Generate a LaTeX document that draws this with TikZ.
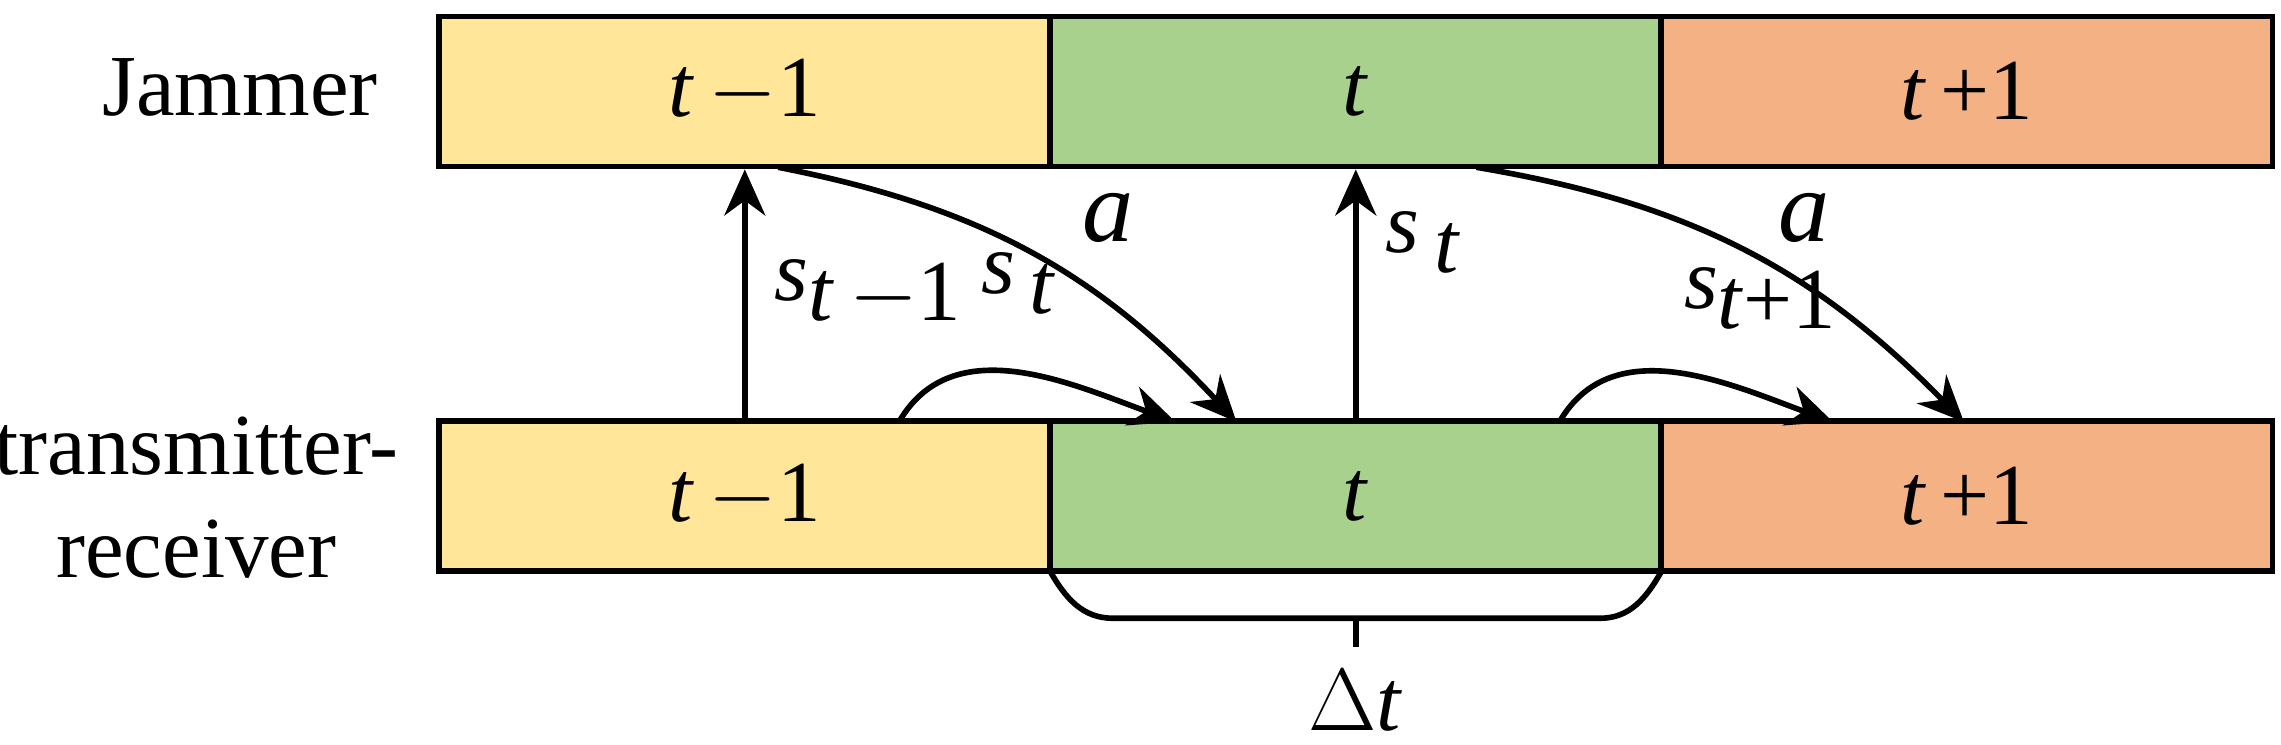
\documentclass[tikz,border=0pt]{standalone}
\usepackage{fontspec}
\setmainfont{Liberation Serif}
\usetikzlibrary{arrows.meta}
\definecolor{cy}{HTML}{FFE699}
\definecolor{cg}{HTML}{A9D18E}
\definecolor{co}{HTML}{F4B183}
\newcommand{\ti}[1]{\textit{#1}}
\begin{document}
\begin{tikzpicture}[x=0.01cm,y=-0.01cm,
  box/.style={draw,line width=1.1pt,minimum height=1.03cm,inner sep=0,font=\fontsize{17}{20}\selectfont},
  lab/.style={font=\fontsize{17}{20}\selectfont},
  arr/.style={line width=1.1pt,-{Stealth[length=9pt,width=8pt]}},
  txt/.style={font=\fontsize{17}{20}\selectfont,align=center}]
\useasboundingbox (0,0) rectangle (1568,512);
\node[box,fill=cy,minimum width=4.2cm] (j1) at (512,63) {\ti{t}\,$-$1};
\node[box,fill=cg,minimum width=4.2cm] (j2) at (932,63) {\ti{t}};
\node[box,fill=co,minimum width=4.2cm] (j3) at (1352,63) {\ti{t}\,+1};
\node[box,fill=cy,minimum width=4.2cm] (r1) at (512,341) {\ti{t}\,$-$1};
\node[box,fill=cg,minimum width=4.2cm] (r2) at (932,341) {\ti{t}};
\node[box,fill=co,minimum width=4.2cm] (r3) at (1352,341) {\ti{t}\,+1};
\node[txt] (jl) at (165,60) {Jammer};
\node[txt] (rl) at (135,342) {transmitter-\\receiver};
\draw[arr] (r1.north) -- (j1.south) node[lab,midway,right=2pt] (s1) {\ti{s}\raisebox{-0.5ex}{\ti{t}\,$-$1}};
\draw[arr] (r2.north) -- (j2.south) node[lab,midway,right=2pt,yshift=10pt] (s2) {\ti{s}\raisebox{-0.5ex}{\,\ti{t}}};
\coordinate (a1) at (535,115); \coordinate (b1) at (850,290);
\coordinate (a2) at (1015,115); \coordinate (b2) at (1350,290);
\draw[arr] (a1) to[bend left=18] (b1);
\draw[arr] (a2) to[bend left=18] (b2);
\node[lab,font=\fontsize{20}{24}\selectfont] (la1) at (762,150) {\ti{a}};
\node[lab,font=\fontsize{20}{24}\selectfont] (la2) at (1240,150) {\ti{a}};
\coordinate (c1) at (618,290); \coordinate (d1) at (808,290);
\coordinate (c2) at (1072,290); \coordinate (d2) at (1260,290);
\draw[arr] (c1) to[out=60,in=160] (d1);
\draw[arr] (c2) to[out=60,in=160] (d2);
\node[lab] (ls1) at (700,195) {\ti{s}\raisebox{-0.5ex}{\,\ti{t}}};
\node[lab] (ls2) at (1210,205) {\ti{s}\raisebox{-0.5ex}{\ti{t}+1}};
\draw[line width=1.1pt] (722,393) to[out=-60,in=180] (765,425) -- (1100,425) to[out=0,in=-120] (1142,393);
\draw[line width=1.1pt] (932,425) -- (932,445);
\node[lab] (dt) at (932,482) {$\Delta$\ti{t}};
\end{tikzpicture}
\end{document}
